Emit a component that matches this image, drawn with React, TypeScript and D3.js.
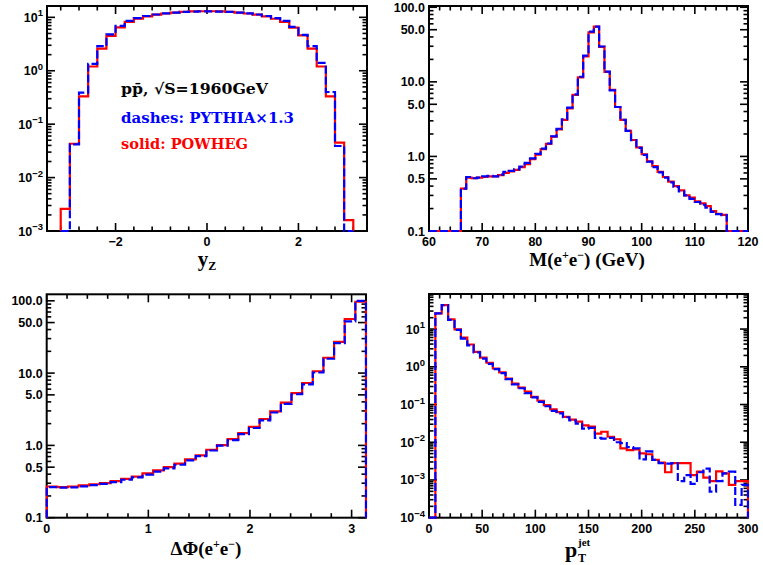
import React from "react";
import * as d3 from "d3";

// ---------- DATA ----------
// Panel 1: y_Z, bins of 0.2 from -3.2 to 3.2
const yzStart = -3.2;
const yzWidth = 0.2;
const yzPowheg = [0.0026, 0.043, 0.33, 1.2, 2.6, 4.5, 6.5, 8.2, 9.4, 10.4, 11.2, 11.8, 12.3, 12.6, 12.9, 13.0,
  13.0, 12.9, 12.6, 12.3, 11.8, 11.2, 10.4, 9.4, 8.2, 6.4, 4.6, 2.6, 1.2, 0.33, 0.045, 0.0016];
const yzPythia = [0, 0.042, 0.39, 1.35, 2.9, 4.8, 6.9, 8.6, 9.7, 10.6, 11.3, 11.9, 12.3, 12.6, 12.8, 12.9,
  12.9, 12.8, 12.6, 12.3, 11.9, 11.3, 10.6, 9.7, 8.6, 6.6, 4.7, 2.9, 1.4, 0.4, 0.039, 0];

// Panel 2: M(e+e-), bins of 1 GeV from 60 to 120
const mStart = 60;
const mWidth = 1;
const mPowheg = [0, 0, 0, 0, 0, 0, 0.37, 0.52, 0.51, 0.52, 0.53, 0.54, 0.54, 0.56, 0.6, 0.63, 0.66, 0.72, 0.79, 0.92,
  1.06, 1.25, 1.47, 1.84, 2.3, 3.1, 4.4, 6.7, 11.5, 22, 46, 55, 29.5, 13.6, 7.8, 4.6, 3.1, 2.2, 1.66, 1.32,
  1.07, 0.86, 0.74, 0.62, 0.53, 0.46, 0.4, 0.35, 0.3, 0.28, 0.25, 0.235, 0.215, 0.185, 0.17, 0.165, 0, 0, 0, 0];
const mPythia = [0, 0, 0, 0, 0, 0, 0.37, 0.53, 0.51, 0.52, 0.54, 0.55, 0.54, 0.57, 0.62, 0.64, 0.67, 0.73, 0.82, 0.94,
  1.08, 1.27, 1.49, 1.86, 2.35, 3.15, 4.5, 6.8, 11.7, 22.5, 47, 55, 29.8, 13.7, 7.7, 4.6, 3.1, 2.2, 1.65, 1.3,
  1.05, 0.85, 0.72, 0.61, 0.52, 0.45, 0.39, 0.34, 0.3, 0.27, 0.245, 0.225, 0.205, 0.18, 0.168, 0.163, 0, 0, 0, 0];

// Panel 3: delta phi, 30 bins over [0, pi]
const phiStart = 0;
const phiWidth = Math.PI / 30;
const phiPowheg = [0.27, 0.265, 0.27, 0.28, 0.29, 0.3, 0.32, 0.345, 0.37, 0.41, 0.45, 0.5, 0.56, 0.64, 0.73,
  0.87, 1.01, 1.22, 1.48, 1.8, 2.32, 2.95, 3.9, 5.3, 7.3, 10.6, 16.3, 27, 56, 97];
const phiPythia = [0.265, 0.26, 0.262, 0.272, 0.283, 0.293, 0.31, 0.335, 0.362, 0.395, 0.435, 0.48, 0.54, 0.62, 0.71,
  0.85, 0.99, 1.18, 1.43, 1.74, 2.22, 2.85, 3.75, 5.1, 7.0, 10.2, 15.8, 26, 52, 100];

// Panel 4: pT jet, bins of 6 GeV from 0 to 300
const ptStart = 0;
const ptWidth = 6;
const ptPowheg = [0, 26, 43, 18, 9.8, 5.9, 3.9, 2.5, 1.74, 1.28, 0.9, 0.71, 0.49, 0.36, 0.28, 0.22, 0.16, 0.126,
  0.096, 0.074, 0.063, 0.047, 0.04, 0.035, 0.028, 0.026, 0.017, 0.019, 0.014, 0.012, 0.0069, 0.0062, 0.0065,
  0.0051, 0.0048, 0.0034, 0.0029, 0.0016, 0.0028, 0.0028, 0.0028, 0.00135, 0.00166, 0.00115, 0.00093, 0.0017,
  0.0015, 0.00074, 0.00093, 0.00093];
const ptPythia = [0, 26, 43, 17.5, 9.5, 5.6, 3.7, 2.4, 1.65, 1.2, 0.87, 0.68, 0.47, 0.34, 0.27, 0.2, 0.155, 0.118,
  0.09, 0.068, 0.058, 0.046, 0.038, 0.031, 0.023, 0.024, 0.013, 0.0125, 0.013, 0.01, 0.0095, 0.0074, 0.0069,
  0.0035, 0.0057, 0.0034, 0.0028, 0.0027, 0.0028, 0.00093, 0.00135, 0.00079, 0.0016, 0.002, 0.00049, 0.00093,
  0.0015, 0.00166, 0.00022, 0.00074];

// Tick labels
const yzXTicks = [-2, 0, 2];
const mXTicks = [60, 70, 80, 90, 100, 110, 120];
const phiXTicks = [0, 1, 2, 3];
const ptXTicks = [0, 50, 100, 150, 200, 250, 300];
const yzYPowers = [1, 0, -1, -2, -3];
const ptYPowers = [1, 0, -1, -2, -3, -4];
const mYTicks = [0.1, 0.5, 1, 5, 10, 50, 100];
const phiYTicks = [0.1, 0.5, 1, 5, 10, 50, 100];

// ---------- DRAWING ----------
const RED = "#ff0000";
const BLUE = "#0000ff";
const LABEL_FONT = "'Liberation Sans', Arial, sans-serif";
const TITLE_FONT = "'Liberation Serif', 'DejaVu Serif', serif";
const NOTE_FONT = "'DejaVu Serif', serif";

type PanelProps = {
  id: string;
  left: number; right: number; top: number; bottom: number;
  xDomain: [number, number]; yDomain: [number, number];
  xMajor: number[]; xMinorStep: number;
  yLabels: { v: number; node: React.ReactNode }[];
  xFormat: (v: number) => string;
  start: number; width: number;
  red: number[]; blue: number[];
  children?: React.ReactNode;
};

function stepPath(start: number, width: number, vals: number[], x: any, y: any, yMin: number) {
  const edges = d3.range(vals.length + 1).map((i) => start + i * width);
  const cl = (v: number) => y(Math.max(v, yMin));
  let d = `M${x(edges[0])},${y(yMin)}`;
  vals.forEach((v, i) => {
    d += `L${x(edges[i])},${cl(v)}L${x(edges[i + 1])},${cl(v)}`;
  });
  d += `L${x(edges[edges.length - 1])},${y(yMin)}`;
  return d;
}

function Panel(p: PanelProps) {
  const x = d3.scaleLinear().domain(p.xDomain).range([p.left, p.right]);
  const y = d3.scaleLog().domain(p.yDomain).range([p.bottom, p.top]);
  const MAJ = 8, MIN = 4.5;
  const xMinor = d3.range(Math.ceil(p.xDomain[0] / p.xMinorStep - 1e-6), Math.floor(p.xDomain[1] / p.xMinorStep + 1e-6) + 1)
    .map((k) => k * p.xMinorStep)
    .filter((v) => !p.xMajor.some((m) => Math.abs(m - v) < 1e-6));
  const lo = Math.floor(Math.log10(p.yDomain[0]));
  const hi = Math.ceil(Math.log10(p.yDomain[1]));
  const yMinor: number[] = [];
  for (let e = lo; e <= hi; e++) for (let k = 1; k <= 9; k++) {
    const v = k * Math.pow(10, e);
    if (v >= p.yDomain[0] * 0.999 && v <= p.yDomain[1] * 1.001 && !p.yLabels.some((l) => Math.abs(l.v / v - 1) < 1e-6)) yMinor.push(v);
  }
  const tickProps = { stroke: "#000", strokeWidth: 1.6 };
  return (
    <g>
      <defs>
        <clipPath id={p.id}>
          <rect x={p.left - 1.5} y={p.top} width={p.right - p.left + 3} height={p.bottom - p.top + 1.5} />
        </clipPath>
      </defs>
      {p.xMajor.map((v) => (
        <g key={"xm" + v}>
          <line x1={x(v)} x2={x(v)} y1={p.bottom} y2={p.bottom - MAJ} {...tickProps} />
          <line x1={x(v)} x2={x(v)} y1={p.top} y2={p.top + MAJ} {...tickProps} />
          <text x={x(v)} y={p.bottom + 15} textAnchor="middle" fontFamily={LABEL_FONT} fontWeight="bold" fontSize={12.5}>
            {p.xFormat(v)}
          </text>
        </g>
      ))}
      {xMinor.map((v) => (
        <g key={"xn" + v}>
          <line x1={x(v)} x2={x(v)} y1={p.bottom} y2={p.bottom - MIN} {...tickProps} />
          <line x1={x(v)} x2={x(v)} y1={p.top} y2={p.top + MIN} {...tickProps} />
        </g>
      ))}
      {p.yLabels.map((l) => (
        <g key={"ym" + l.v}>
          <line x1={p.left} x2={p.left + MAJ} y1={y(l.v)} y2={y(l.v)} {...tickProps} />
          <line x1={p.right} x2={p.right - MAJ} y1={y(l.v)} y2={y(l.v)} {...tickProps} />
          <text x={p.left - 4} y={y(l.v) + 4.5} textAnchor="end" fontFamily={LABEL_FONT} fontWeight="bold" fontSize={12.5}>
            {l.node}
          </text>
        </g>
      ))}
      {yMinor.map((v) => (
        <g key={"yn" + v}>
          <line x1={p.left} x2={p.left + MIN} y1={y(v)} y2={y(v)} {...tickProps} />
          <line x1={p.right} x2={p.right - MIN} y1={y(v)} y2={y(v)} {...tickProps} />
        </g>
      ))}
      <rect x={p.left} y={p.top} width={p.right - p.left} height={p.bottom - p.top} fill="none" stroke="#000" strokeWidth={2} />
      <g clipPath={`url(#${p.id})`}>
        <path d={stepPath(p.start, p.width, p.red, x, y, p.yDomain[0])} fill="none" stroke={RED} strokeWidth={2.2} />
        <path d={stepPath(p.start, p.width, p.blue, x, y, p.yDomain[0])} fill="none" stroke={BLUE} strokeWidth={2.2} strokeDasharray="8,3" />
      </g>
      {p.children}
    </g>
  );
}

const pow10Label = (e: number) => (
  <>
    10<tspan dy={-5.5} fontSize={9.5}>{e < 0 ? "\u2212" + Math.abs(e) : String(e)}</tspan>
  </>
);

export default function App() {
  return (
    <svg width={763} height={565} style={{ position: "absolute", left: 0, top: 0, background: "#fff" }}>
      <rect width={763} height={565} fill="#fff" />
      <Panel id="c1" left={47} right={367} top={6} bottom={231} xDomain={[-3.5, 3.5]} yDomain={[1e-3, 16.3]}
        xMajor={yzXTicks} xMinorStep={0.4} xFormat={(v) => (v < 0 ? "\u2212" + Math.abs(v) : String(v))}
        yLabels={yzYPowers.map((e) => ({ v: Math.pow(10, e), node: pow10Label(e) }))}
        start={yzStart} width={yzWidth} red={yzPowheg} blue={yzPythia}>
        <text x={121} y={94} fontFamily={NOTE_FONT} fontWeight="bold" fontSize={15} fill="#000" textLength={147} lengthAdjust="spacingAndGlyphs">
          p{"p\u0304"}, {"\u221A"}S=1960GeV
        </text>
        <text x={121} y={123} fontFamily={NOTE_FONT} fontWeight="bold" fontSize={15} fill={BLUE} textLength={173} lengthAdjust="spacingAndGlyphs">
          dashes: PYTHIA{"\u00D7"}1.3
        </text>
        <text x={121} y={149} fontFamily={NOTE_FONT} fontWeight="bold" fontSize={15} fill={RED} textLength={127} lengthAdjust="spacingAndGlyphs">
          solid: POWHEG
        </text>
        <text x={207} y={266} textAnchor="middle" fontFamily={TITLE_FONT} fontWeight="bold" fontSize={21}>
          y<tspan dy={4} fontSize={12}>Z</tspan>
        </text>
      </Panel>
      <Panel id="c2" left={429} right={748} top={6} bottom={231} xDomain={[60, 120]} yDomain={[0.1, 104]}
        xMajor={mXTicks} xMinorStep={2} xFormat={(v) => String(v)}
        yLabels={mYTicks.map((v) => ({ v, node: v.toFixed(1) }))}
        start={mStart} width={mWidth} red={mPowheg} blue={mPythia}>
        <text x={587} y={266} textAnchor="middle" fontFamily={TITLE_FONT} fontWeight="bold" fontSize={19}>
          M(e<tspan dy={-7} fontSize={12}>+</tspan><tspan dy={7}>e</tspan><tspan dy={-7} fontSize={12}>{"\u2212"}</tspan><tspan dy={7}>) (GeV)</tspan>
        </text>
      </Panel>
      <Panel id="c3" left={46.7} right={366} top={294.3} bottom={517.7} xDomain={[0, Math.PI]} yDomain={[0.1, 123]}
        xMajor={phiXTicks} xMinorStep={0.2} xFormat={(v) => String(v)}
        yLabels={phiYTicks.map((v) => ({ v, node: v.toFixed(1) }))}
        start={phiStart} width={phiWidth} red={phiPowheg} blue={phiPythia}>
        <text x={206} y={555} textAnchor="middle" fontFamily={TITLE_FONT} fontWeight="bold" fontSize={19}>
          {"\u0394\u03A6"}(e<tspan dy={-7} fontSize={12}>+</tspan><tspan dy={7}>e</tspan><tspan dy={-7} fontSize={12}>{"\u2212"}</tspan><tspan dy={7}>)</tspan>
        </text>
      </Panel>
      <Panel id="c4" left={429} right={748} top={294} bottom={517.7} xDomain={[0, 300]} yDomain={[1e-4, 85]}
        xMajor={ptXTicks} xMinorStep={10} xFormat={(v) => String(v)}
        yLabels={ptYPowers.map((e) => ({ v: Math.pow(10, e), node: pow10Label(e) }))}
        start={ptStart} width={ptWidth} red={ptPowheg} blue={ptPythia}>
        <text x={565} y={557} fontFamily={TITLE_FONT} fontWeight="bold" fontSize={22}>p</text>
        <text x={578} y={546} fontFamily={TITLE_FONT} fontWeight="bold" fontSize={11}>jet</text>
        <text x={578} y={562} fontFamily={TITLE_FONT} fontWeight="bold" fontSize={12}>T</text>
      </Panel>
    </svg>
  );
}
